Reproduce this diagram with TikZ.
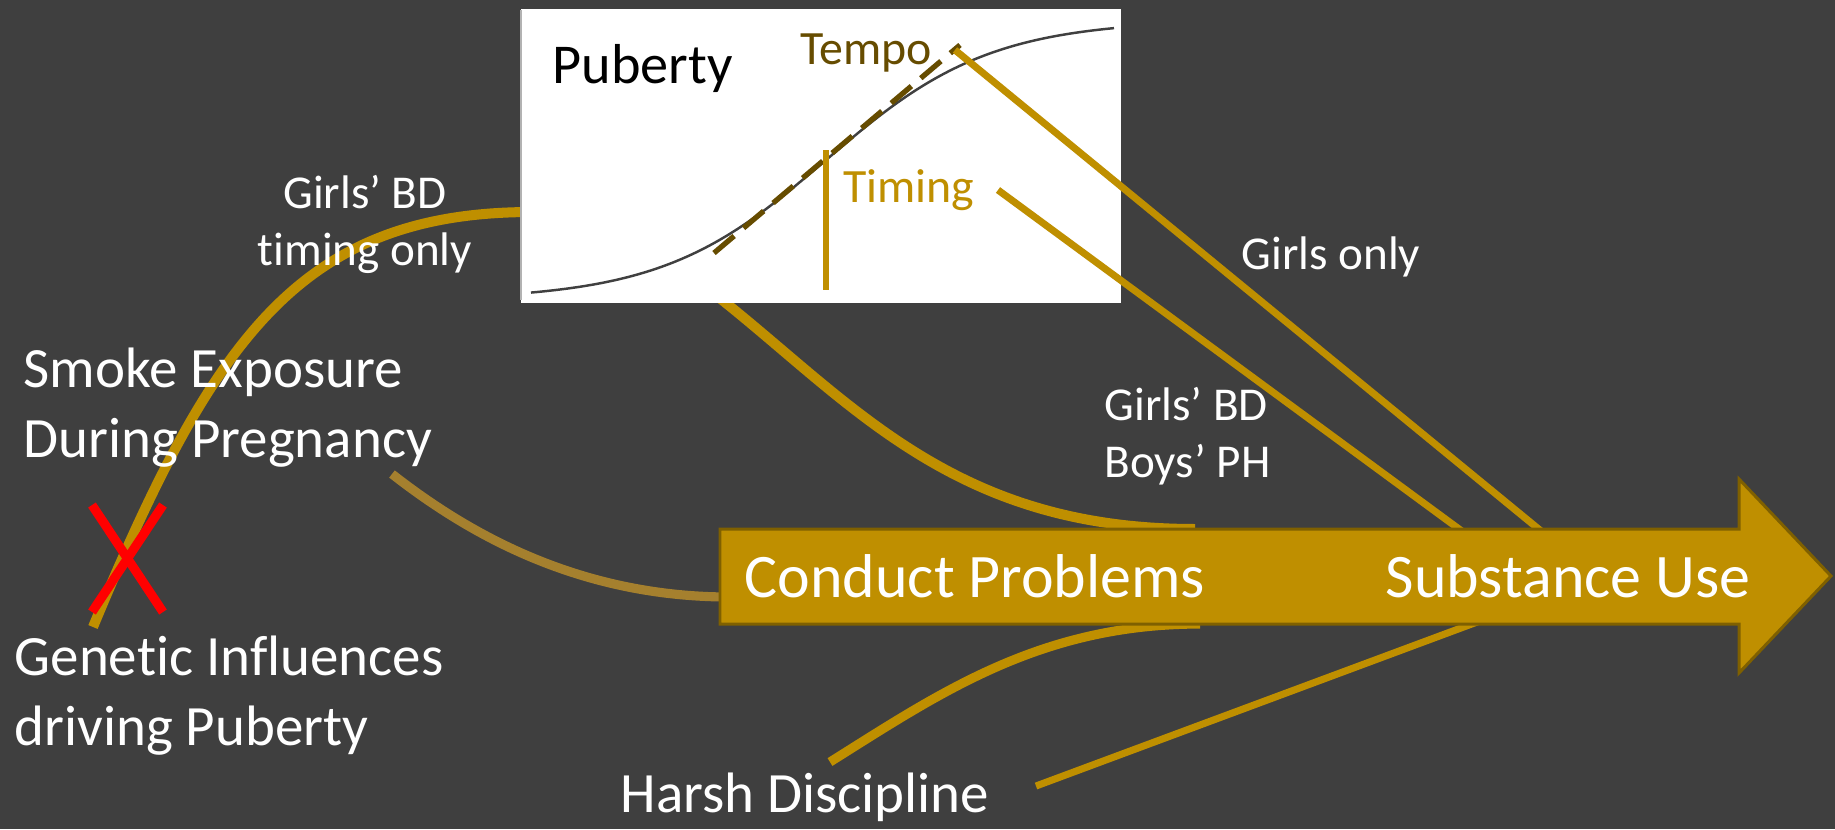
\documentclass[tikz,border=0pt]{standalone}
\usepackage{fontspec}
\setmainfont{Carlito}[Ligatures={NoCommon}]
\definecolor{bgc}{HTML}{3F3F3F}
\definecolor{gold}{HTML}{BF8F00}
\definecolor{goldd}{HTML}{7F6000}
\definecolor{tempoc}{HTML}{664C00}
\definecolor{smokec}{HTML}{A5802E}
\definecolor{curvec}{HTML}{404040}
\begin{document}
\begin{tikzpicture}[x=0.01cm,y=-0.01cm,
  big/.style={text=white,inner sep=0pt,font=\fontsize{16.2}{19.9}\selectfont},
  small/.style={text=white,inner sep=0pt,font=\fontsize{13.4}{16.2}\selectfont},
  arrowlab/.style={text=white,inner sep=0pt,font=\fontsize{17.6}{21}\selectfont},
  thickpath/.style={draw=gold,line width=2.85pt},
  thinpath/.style={draw=gold,line width=2pt}]
\useasboundingbox (0,0) rectangle (1835,829);
\fill[bgc] (0,0) rectangle (1835,829);

% named end points
\coordinate (genS) at (93,627);
\coordinate (boxL) at (532,212);
\coordinate (smokeS) at (392,474);
\coordinate (cpL) at (730,597);
\coordinate (boxB) at (712,292);
\coordinate (cpT) at (1195,529);
\coordinate (hdS) at (830,762);
\coordinate (cpB) at (1200,624);
\coordinate (hdR) at (1036,786);
\coordinate (suB) at (1504,612);
\coordinate (timS) at (998,190);
\coordinate (suT1) at (1474,540);
\coordinate (temS) at (955,50);
\coordinate (suT2) at (1552,540);

% curves under the box and arrow
\draw[thickpath] (genS) .. controls (213,339) and (300,212) .. (boxL);
\draw[draw=smokec,line width=2.6pt] (smokeS) .. controls (470,535) and (580,597) .. (cpL);
\draw[thickpath] (boxB) .. controls (850,400) and (950,529) .. (cpT);
\draw[draw=gold,line width=2.6pt] (hdS) .. controls (940,693) and (1040,624) .. (cpB);
\draw[thinpath] (hdR) -- (suB);

% puberty box
\node[fill=white,inner sep=0pt,minimum width=6cm,minimum height=2.94cm,anchor=north west] (box) at (520,8) {};
\draw[gray!60,line width=0.4pt] (521,10) -- (521,300);
\draw[curvec,line width=0.7pt] plot[domain=531:1114,samples=90,smooth] (\x,{20+280/(1+exp((\x-826)/82))});
\draw[tempoc,line width=1.5pt,dash pattern=on 7.5pt off 3.5pt] (714,253) -- (960,45);
\draw[gold,line width=1.5pt] (826,150) -- (826,290);
\node[inner sep=0pt,anchor=west,text=black,font=\fontsize{16}{19}\selectfont] (pub) at (552,68) {Puberty};
\node[inner sep=0pt,text=tempoc,font=\fontsize{13.6}{16}\selectfont] (tempo) at (866,53) {Tempo};
\node[inner sep=0pt,text=gold,font=\fontsize{13.6}{16}\selectfont] (timing) at (909,190) {Timing};

% straight lines to substance use
\draw[thinpath] (timS) -- (suT1);
\draw[thinpath] (temS) -- (suT2);

% big arrow
\fill[gold,draw=goldd,line width=0.85pt] (720,529) -- (1739,529) -- (1739,479) -- (1831,576) -- (1739,673) -- (1739,624) -- (720,624) -- cycle;
\node[arrowlab] (cp) at (975,576) {Conduct Problems};
\node[arrowlab] (su) at (1568,576) {Substance Use};

% labels
\node[small,align=center] (gbd1) at (365,224) {Girls’ BD\\timing only};
\node[big,align=left,anchor=west] (smoke) at (23,408) {Smoke Exposure\\During Pregnancy};
\node[big,align=left,anchor=west] (gen) at (14,696) {Genetic Influences\\driving Puberty};
\node[big] (hd) at (805,797) {Harsh Discipline};
\node[small] (go) at (1331,257) {Girls only};
\node[small,align=left,anchor=west] (gbd2) at (1104,436) {Girls’ BD\\Boys’ PH};

% red X
\draw[red,line width=2.6pt] (92,505) -- (163,612);
\draw[red,line width=2.6pt] (163,505) -- (92,612);
\end{tikzpicture}
\end{document}
